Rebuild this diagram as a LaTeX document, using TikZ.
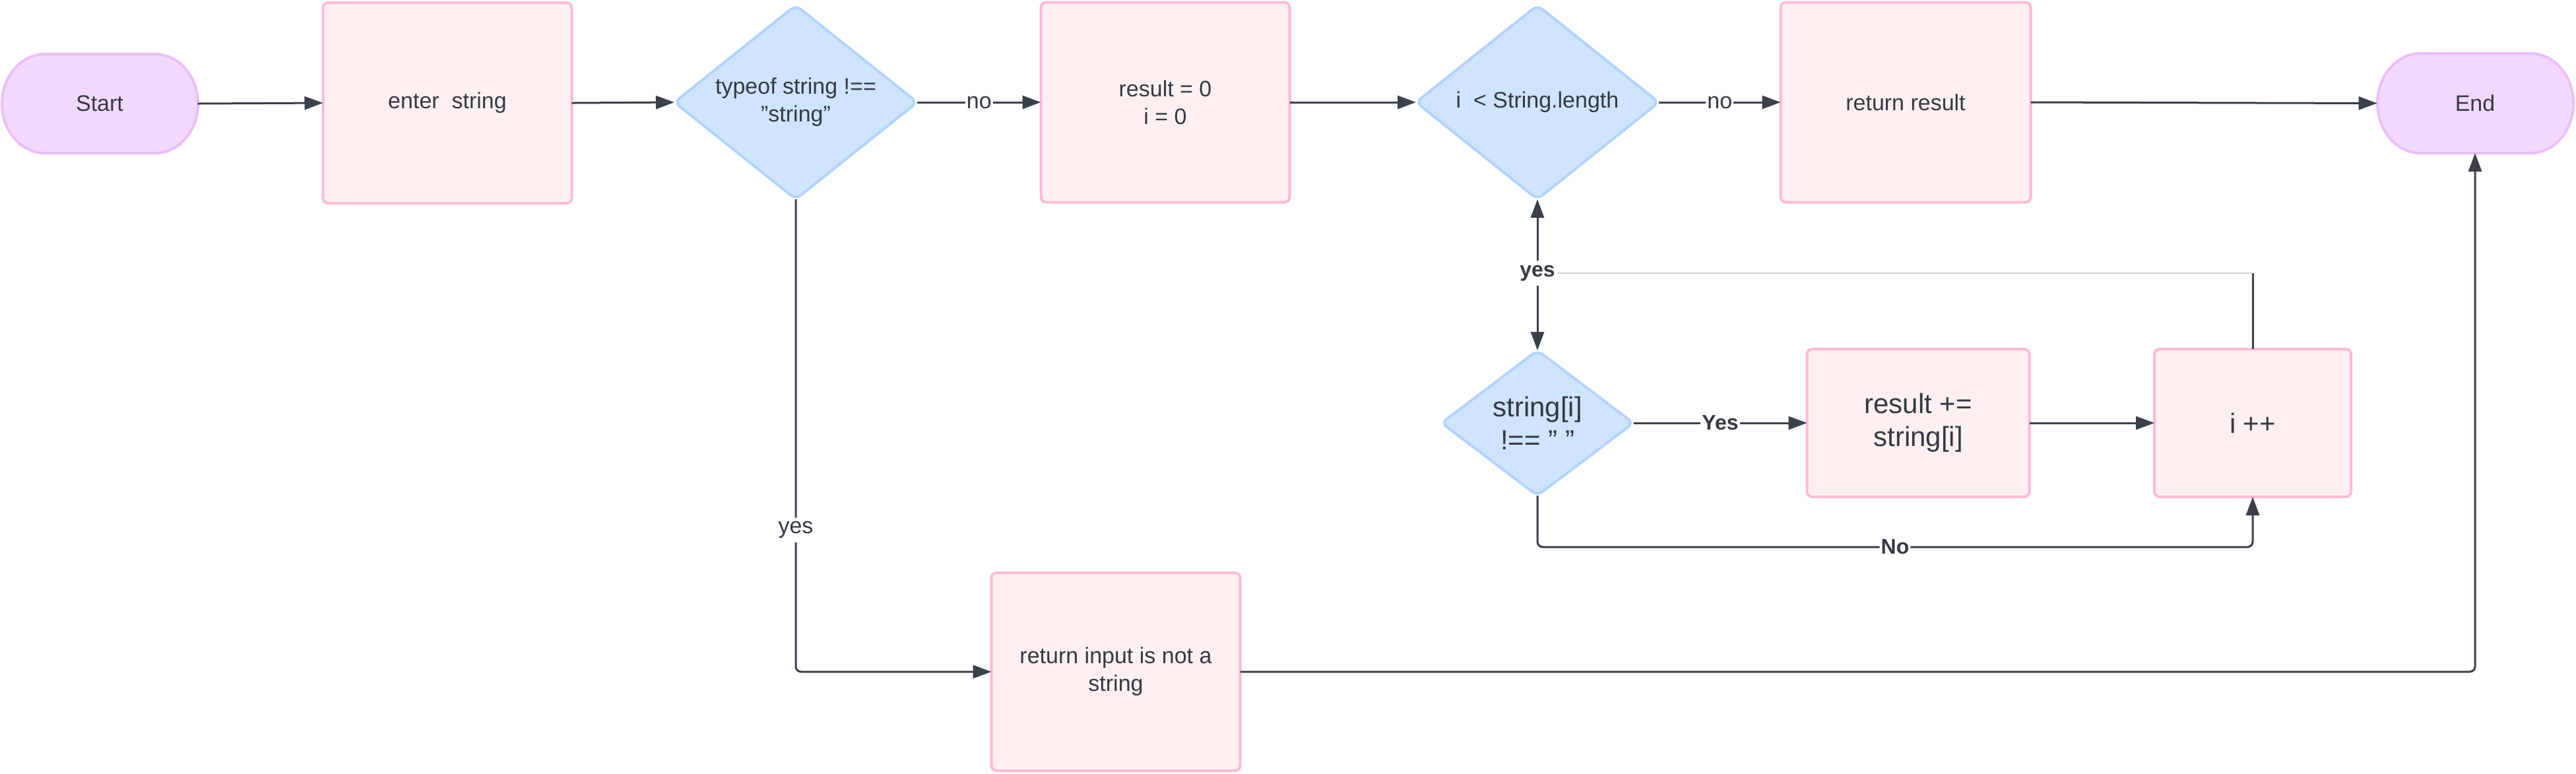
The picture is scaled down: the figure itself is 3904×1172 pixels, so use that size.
\documentclass[tikz,border=0pt]{standalone}
\usepackage{fontspec}
\setmainfont{Liberation Sans}
\usetikzlibrary{arrows.meta,shapes.geometric}

\definecolor{inkgray}{RGB}{51,58,68}
\definecolor{wirecol}{RGB}{58,65,74}
\definecolor{faintcol}{RGB}{208,208,212}
\definecolor{boxfill}{RGB}{254,240,240}
\definecolor{boxline}{RGB}{255,185,215}
\definecolor{decfill}{RGB}{207,228,255}
\definecolor{decline}{RGB}{178,212,255}
\definecolor{termfill}{RGB}{242,216,252}
\definecolor{termline}{RGB}{234,190,250}

\tikzset{every picture/.style={line width=0.75pt}}
\tikzset{
  procbox/.style={draw=boxline, fill=boxfill, line width=1pt, rounded corners=2pt,
    inner sep=0pt, outer sep=0pt, align=center, text=inkgray,
    font=\fontsize{8.5}{10.5}\selectfont},
  decision/.style={diamond, draw=decline, fill=decfill, line width=1pt, rounded corners=2.5pt,
    inner sep=0pt, outer sep=0pt, align=center, text=inkgray,
    font=\fontsize{8.5}{10.5}\selectfont},
  termtext/.style={inner sep=0pt, outer sep=0pt, text=inkgray,
    font=\fontsize{8.5}{10.5}\selectfont},
  termshape/.style={draw=termline, fill=termfill, line width=1pt},
  bigtext/.style={font=\fontsize{10.5}{12.5}\selectfont},
  wire/.style={draw=wirecol, line width=0.75pt},
  flow/.style={wire, -{Triangle[length=7pt,width=5pt]}},
  faint/.style={draw=faintcol, line width=0.35pt},
  lbl/.style={fill=white, inner xsep=0.5pt, inner ysep=1.5pt, text=inkgray,
    font=\fontsize{8.5}{10}\selectfont},
  lblb/.style={lbl, font=\fontsize{8}{9.6}\selectfont\bfseries}
}

\begin{document}
\begin{tikzpicture}[x=0.25pt,y=0.25pt,yscale=-1,xscale=1]
\useasboundingbox (0,0) rectangle (3904,1172);

%Shape: Terminator
\draw[termshape] (68,82) -- (235,82) arc[start angle=-90,end angle=90,x radius=65,y radius=75]
  -- (68,232) arc[start angle=90,end angle=270,x radius=65,y radius=75] -- cycle;
%Shape: Terminator
\draw[termshape] (3668,81) -- (3835,81) arc[start angle=-90,end angle=90,x radius=65,y radius=75.5]
  -- (3668,232) arc[start angle=90,end angle=270,x radius=65,y radius=75.5] -- cycle;

% Text Node
\node[termtext, minimum width=74.25pt, minimum height=37.5pt] (start) at (151,157) {Start};
% Text Node
\node[termtext, minimum width=74.25pt, minimum height=37.75pt] (finish) at (3751,156.5) {End};

%Shape: Rectangle
\node[procbox, minimum width=94.25pt, minimum height=76pt] (enter) at (678,156) {enter\ \ string};
%Shape: Diamond
\node[decision, aspect=1.25, minimum width=92pt, minimum height=73.5pt] (typecheck) at (1206,155)
  {typeof string !==\\"string"};
%Shape: Rectangle
\node[procbox, minimum width=94.25pt, minimum height=75.75pt] (init) at (1766,155)
  {result = 0\\i = 0};
%Shape: Diamond
\node[decision, aspect=1.25, minimum width=92pt, minimum height=73.5pt] (loopcheck) at (2330,155)
  {i\ \ < String.length};
%Shape: Rectangle
\node[procbox, minimum width=94.75pt, minimum height=75.75pt] (retres) at (2888,155) {return result};
%Shape: Diamond
\node[decision, bigtext, aspect=1.32, minimum width=72.75pt, minimum height=55pt] (spacecheck) at (2330,641)
  {string[i]\\!== "\ "};
%Shape: Rectangle
\node[procbox, bigtext, minimum width=84.25pt, minimum height=56pt] (append) at (2907,641)
  {result +=\\string[i]};
%Shape: Rectangle
\node[procbox, bigtext, minimum width=74.5pt, minimum height=56pt] (incr) at (3414,641) {i ++};
%Shape: Rectangle
\node[procbox, minimum width=94.25pt, minimum height=75pt] (retinput) at (1691,1018)
  {return input is not a\\string};

% Text Node
\node[lblb] (yes) at (2330,414) {yes};
\coordinate (loopc) at (incr.north |- yes);
\coordinate (nocorner) at (3414,829);

%Straight Lines
\draw[flow] (start.east) -- (enter.west);
\draw[flow] (enter.east) -- (typecheck.west);
\draw[flow] (typecheck.east) -- node[lbl]{no} (init.west);
\draw[flow] (init.east) -- (loopcheck.west);
\draw[flow] (loopcheck.east) -- node[lbl]{no} (retres.west);
\draw[flow] (retres.east) -- (finish.west);
\draw[flow] (yes.north) -- (loopcheck.south);
\draw[flow] (yes.south) -- (spacecheck.north);
\draw[flow] (spacecheck.east) -- node[lblb]{Yes} (append.west);
\draw[flow] (append.east) -- (incr.west);
\draw[flow, rounded corners=2pt] (spacecheck.south) |- node[lblb, pos=0.75]{No} (nocorner) -- (incr.south);
\draw[wire] (incr.north) -- (loopc);
\draw[faint] (loopc) -- (yes.east);
\draw[flow, rounded corners=2pt] (typecheck.south) |- node[lbl, pos=0.35]{yes} (retinput.west);
\draw[flow, rounded corners=2pt] (retinput.east) -| (finish.south);
\end{tikzpicture}
\end{document}
